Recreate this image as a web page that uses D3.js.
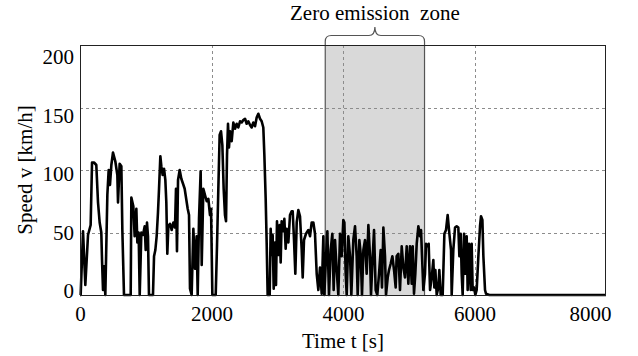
<!DOCTYPE html>
<html>
<head>
<meta charset="utf-8">
<script src="https://cdn.jsdelivr.net/npm/d3@7"></script>
<style>
  body { margin: 0; background: #fff; }
  svg { display: block; }
</style>
</head>
<body>
<script>
// Drive cycle speed trace
const timeS = [0, 10, 46, 81, 122, 162, 183, 213, 248, 274, 299, 324, 335, 350, 365, 385,
  416, 436, 456, 477, 502, 537, 568, 578, 603, 629, 644, 669, 771, 781, 811, 831, 857, 872, 892, 908,
  933, 958, 984, 999, 1019, 1034, 1049, 1110, 1126, 1146, 1166, 1186, 1202, 1222, 1237, 1257, 1278,
  1298, 1313, 1328, 1344, 1369, 1394, 1420, 1445, 1460, 1475, 1491, 1516, 1541, 1567, 1592, 1638,
  1658, 1673, 1698, 1724, 1749, 1774, 1790, 1810, 1835, 1851, 1876, 1901, 1927, 1952, 1977, 1993,
  2013, 2064, 2084, 2104, 2124, 2145, 2165, 2185, 2205, 2221, 2236, 2251, 2266, 2282, 2307, 2332,
  2358, 2383, 2408, 2434, 2459, 2484, 2510, 2535, 2560, 2586, 2611, 2636, 2662, 2687, 2712, 2738,
  2763, 2788, 2804, 2824, 2839, 2854, 2885, 2900, 2915, 2930, 2946, 2966, 2981, 2996, 3017, 3037,
  3052, 3067, 3093, 3108, 3128, 3143, 3169, 3194, 3219, 3235, 3255, 3275, 3296, 3321, 3346, 3372,
  3387, 3407, 3437, 3473, 3498, 3524, 3549, 3574, 3600, 3625, 3650, 3676, 3701, 3716, 3742, 3762,
  3787, 3813, 3838, 3858, 3879, 3904, 3929, 3955, 3980, 4005, 4021, 4041, 4056, 4081, 4107, 4127,
  4157, 4183, 4208, 4223, 4249, 4269, 4289, 4310, 4335, 4360, 4386, 4411, 4426, 4452, 4472, 4497,
  4522, 4548, 4573, 4593, 4614, 4639, 4654, 4680, 4700, 4725, 4751, 4776, 4801, 4816, 4842, 4867,
  4893, 4918, 4943, 4969, 4994, 5019, 5045, 5060, 5080, 5100, 5121, 5146, 5171, 5187, 5202, 5222,
  5247, 5263, 5283, 5303, 5324, 5349, 5374, 5389, 5405, 5425, 5450, 5465, 5486, 5516, 5542, 5567,
  5592, 5618, 5643, 5653, 5678, 5704, 5729, 5754, 5770, 5790, 5805, 5820, 5841, 5861, 5881, 5896,
  5917, 5942, 5957, 5972, 5993, 6013, 6033, 6059, 6084, 6099, 6120, 6135, 6160, 6175, 6226, 8000];
const speedKmh = [0, 0, 51, 8, 48, 56, 106, 106, 104, 74, 58, 50, 28, 4, 23, 0,
  80, 100, 88, 104, 114, 107, 96, 74, 105, 103, 52, 0, 0, 78, 71, 47, 69, 42, 50, 0,
  50, 48, 55, 36, 58, 47, 0, 0, 31, 36, 47, 66, 85, 111, 103, 96, 101,
  92, 74, 33, 55, 57, 52, 58, 54, 85, 35, 92, 100, 93, 89, 85, 69,
  64, 5, 0, 53, 21, 47, 0, 61, 99, 24, 85, 80, 75, 77, 64, 69,
  0, 0, 40, 85, 128, 131, 120, 85, 64, 59, 112, 137, 118, 131, 123, 138,
  133, 137, 134, 139, 138, 140, 141, 137, 139, 136, 134, 138, 135, 142, 145, 141,
  139, 134, 112, 77, 42, 0, 0, 53, 32, 48, 5, 42, 8, 59, 32, 56,
  26, 59, 51, 61, 37, 53, 42, 64, 67, 67, 44, 17, 58, 68, 63, 36,
  14, 44, 49, 52, 47, 58, 58, 49, 17, 4, 22, 1, 47, 0, 31, 51,
  0, 36, 49, 4, 44, 20, 0, 49, 31, 60, 58, 17, 0, 47, 31, 0,
  44, 55, 31, 0, 44, 33, 0, 36, 44, 17, 56, 31, 0, 31, 52, 4,
  0, 17, 36, 6, 54, 31, 0, 14, 20, 25, 31, 20, 6, 31, 33, 4,
  39, 22, 14, 39, 9, 39, 9, 39, 1, 17, 41, 55, 47, 52, 31, 4,
  17, 41, 39, 41, 4, 14, 28, 6, 20, 0, 6, 20, 0, 0, 49, 52,
  64, 49, 36, 0, 36, 54, 55, 54, 31, 49, 17, 0, 49, 17, 47, 4,
  41, 4, 41, 4, 6, 0, 4, 31, 55, 63, 60, 31, 4, 1, 0, 0];

const xTicks = [0, 2000, 4000, 6000, 8000];
const yTicks = [0, 50, 100, 150, 200];
const zoneStart = 3730;
const zoneEnd = 5240;
const zoneLabel = "Zero emission  zone";

const width = 638;
const height = 356;
const marginTop = 45;
const marginRight = 32;
const marginBottom = 61;
const marginLeft = 80;

const data = timeS.map((t, i) => ({ t, v: speedKmh[i] }));

const x = d3.scaleLinear()
    .domain([0, 8000])
    .range([marginLeft, width - marginRight]);

const y = d3.scaleLinear()
    .domain([0, 200])
    .range([height - marginBottom, marginTop]);

// tick labels sit slightly inside the ends of the axis in the original
const yLab = d3.scaleLinear()
    .domain([0, 200])
    .range([291.5, 57.5]);

const svg = d3.select("body").append("svg")
    .attr("width", width)
    .attr("height", height)
    .attr("viewBox", [0, 0, width, height]);

// zero emission zone shading
svg.append("rect")
    .attr("x", x(zoneStart))
    .attr("y", marginTop)
    .attr("width", x(zoneEnd) - x(zoneStart))
    .attr("height", y(0) - marginTop)
    .attr("fill", "#d9d9d9");

// grid
svg.append("g")
    .attr("stroke", "#8c8c8c")
    .attr("stroke-width", 1)
    .attr("stroke-dasharray", "3,3")
    .call(g => g.selectAll(".gx")
        .data(xTicks.slice(1, -1))
        .join("line")
        .attr("x1", d => Math.round(x(d)) + 0.5)
        .attr("x2", d => Math.round(x(d)) + 0.5)
        .attr("y1", marginTop)
        .attr("y2", y(0)))
    .call(g => g.selectAll(".gy")
        .data(yTicks.slice(1, -1))
        .join("line")
        .attr("x1", marginLeft)
        .attr("x2", width - marginRight)
        .attr("y1", d => Math.round(y(d)) + 0.5)
        .attr("y2", d => Math.round(y(d)) + 0.5));

// brace around the zone
const x0 = x(zoneStart), x1 = x(zoneEnd), xm = (x0 + x1) / 2;
const by = 35.5, tipY = 27;
svg.append("path")
    .attr("fill", "none")
    .attr("stroke", "#555")
    .attr("stroke-width", 1.2)
    .attr("d", `M${x0},${y(0)} V${by + 6} Q${x0},${by} ${x0 + 6},${by} H${xm - 6}
        C${xm - 2},${by} ${xm},${by - 2} ${xm},${tipY}
        C${xm},${by - 2} ${xm + 2},${by} ${xm + 6},${by} H${x1 - 6} Q${x1},${by} ${x1},${by + 6} V${y(0)}`);

svg.append("text")
    .attr("x", xm)
    .attr("y", 20)
    .attr("text-anchor", "middle")
    .style("white-space", "pre")
    .text(zoneLabel);

// speed trace
const line = d3.line()
    .x(d => x(d.t))
    .y(d => y(d.v));

svg.append("path")
    .datum(data)
    .attr("fill", "none")
    .attr("stroke", "#000")
    .attr("stroke-width", 2.6)
    .attr("stroke-linejoin", "round")
    .attr("d", line);

// frame
svg.append("rect")
    .attr("x", marginLeft + 0.5)
    .attr("y", marginTop + 0.5)
    .attr("width", width - marginLeft - marginRight - 1)
    .attr("height", y(0) - marginTop)
    .attr("fill", "none")
    .attr("stroke", "#222")
    .attr("stroke-width", 1);

// x axis
svg.append("g")
    .attr("transform", `translate(0,${y(0)})`)
    .call(d3.axisBottom(x).tickValues(xTicks).tickFormat(d3.format("d")).tickSize(0).tickPadding(11))
    .attr("font-family", "Liberation Serif")
    .call(g => g.select(".domain").remove())
    .call(g => g.selectAll(".tick text").filter(d => d === 8000)
        .attr("text-anchor", "end").attr("x", 5));

// y axis
svg.append("g")
    .attr("transform", `translate(${marginLeft},0)`)
    .call(d3.axisLeft(y).tickValues(yTicks).tickFormat(d3.format("d")).tickSize(0).tickPadding(6))
    .attr("font-family", "Liberation Serif")
    .call(g => g.select(".domain").remove())
    .call(g => g.selectAll(".tick").attr("transform", d => `translate(0,${yLab(d)})`));

// axis titles
svg.append("text")
    .attr("x", x(4000))
    .attr("y", 348)
    .attr("text-anchor", "middle")
    .text("Time t [s]");

svg.append("text")
    .attr("transform", `translate(32,${(y(0) + marginTop) / 2}) rotate(-90)`)
    .attr("text-anchor", "middle")
    .text("Speed v [km/h]");

// same serif face for every label
svg.selectAll("text")
    .attr("font-family", "Liberation Serif")
    .attr("font-size", 21)
    .style("font-family", '"Liberation Serif"')
    .style("font-size", "21px")
    .attr("fill", "#000");
</script>
</body>
</html>
